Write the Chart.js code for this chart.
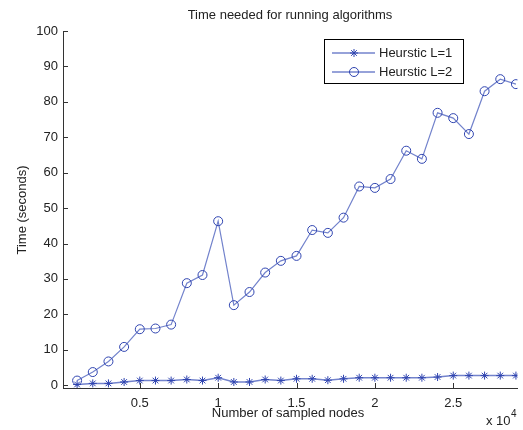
<!DOCTYPE html>
<html>
<head>
<meta charset="utf-8">
<script src="https://cdn.jsdelivr.net/npm/chart.js@4"></script>
<style>
  html, body { margin: 0; padding: 0; background: #fff; }
  #wrap { width: 523px; height: 430px; }
</style>
</head>
<body>
<div id="wrap"><canvas id="timeChart" width="523" height="430"></canvas></div>
<script>
// sampled node counts
const nodes = [1000, 2000, 3000, 4000, 5000, 6000, 7000, 8000, 9000, 10000,
  11000, 12000, 13000, 14000, 15000, 16000, 17000, 18000, 19000, 20000,
  21000, 22000, 23000, 24000, 25000, 26000, 27000, 28000, 29000];

const timeL1 = [0.2, 0.5, 0.5, 0.9, 1.3, 1.3, 1.3, 1.6, 1.3, 2.1,
  0.9, 0.9, 1.6, 1.3, 1.8, 1.8, 1.4, 1.8, 2.1, 2.1,
  2.1, 2.1, 2.1, 2.3, 2.7, 2.7, 2.7, 2.7, 2.7];

const timeL2 = [1.3, 3.7, 6.7, 10.8, 15.8, 16.0, 17.1, 28.8, 31.1, 46.3,
  22.6, 26.3, 31.8, 35.1, 36.5, 43.8, 43.0, 47.3, 56.1, 55.7,
  58.2, 66.2, 63.9, 76.9, 75.4, 70.9, 83.0, 86.4, 85.0];

const xTicks = [5000, 10000, 15000, 20000, 25000];
const yTicks = [0, 10, 20, 30, 40, 50, 60, 70, 80, 90, 100];

const lineColor = '#7383cc';
const markColor = '#2f44b0';
const font = '"Liberation Sans", Arial, sans-serif';

function pts(ys) {
    return nodes.map((n, i) => ({ x: n, y: ys[i] }));
}

// ticks pointing into the plot, titles, legend box, exponent label
const matlabLook = {
    id: 'matlabLook',
    afterDraw(chart) {
        const c = chart.ctx;
        const a = chart.chartArea;
        const xs = chart.scales.x;
        const ys = chart.scales.y;
        c.save();
        c.strokeStyle = '#333';
        c.lineWidth = 1;
        c.beginPath();
        xTicks.forEach(v => {
            const px = Math.round(xs.getPixelForValue(v)) + 0.5;
            c.moveTo(px, a.bottom);
            c.lineTo(px, a.bottom - 5);
        });
        yTicks.forEach(v => {
            const py = Math.round(ys.getPixelForValue(v)) + 0.5;
            c.moveTo(a.left, py);
            c.lineTo(a.left + 5, py);
        });
        c.stroke();

        c.fillStyle = '#222';
        c.font = '13px ' + font;
        c.textAlign = 'center';
        c.textBaseline = 'middle';
        c.fillText('Time needed for running algorithms', 290, 15);
        c.fillText('Number of sampled nodes', 288, 413);

        c.save();
        c.translate(22, 210);
        c.rotate(-Math.PI / 2);
        c.fillText('Time (seconds)', 0, 0);
        c.restore();

        c.textAlign = 'left';
        c.fillText('x 10', 486, 421);
        c.font = '10px ' + font;
        c.fillText('4', 511, 414);

        // legend
        c.fillStyle = '#fff';
        c.fillRect(324, 39, 139, 44);
        c.strokeStyle = '#000';
        c.strokeRect(324.5, 39.5, 139, 44);
        const rows = [
            { label: 'Heurstic L=1', y: 53, style: 'star' },
            { label: 'Heurstic L=2', y: 72, style: 'circle' }
        ];
        rows.forEach(r => {
            c.strokeStyle = lineColor;
            c.lineWidth = 1.5;
            c.beginPath();
            c.moveTo(332, r.y);
            c.lineTo(375, r.y);
            c.stroke();
            c.strokeStyle = markColor;
            c.fillStyle = 'rgba(0,0,0,0)';
            c.lineWidth = 1;
            Chart.helpers.drawPoint(c, { pointStyle: r.style, radius: r.style === 'star' ? 4 : 4.5, borderWidth: 1 }, 354, r.y);
            c.fillStyle = '#222';
            c.font = '13px ' + font;
            c.textAlign = 'left';
            c.textBaseline = 'middle';
            c.fillText(r.label, 379, r.y);
        });
        c.restore();
    }
};

new Chart(document.getElementById('timeChart'), {
    type: 'line',
    data: {
        datasets: [
            {
                label: 'Heurstic L=1',
                data: pts(timeL1),
                borderColor: lineColor,
                borderWidth: 1.5,
                pointStyle: 'star',
                pointRadius: 4,
                pointBorderColor: markColor,
                pointBorderWidth: 1,
                pointBackgroundColor: 'transparent',
                fill: false,
                tension: 0
            },
            {
                label: 'Heurstic L=2',
                data: pts(timeL2),
                borderColor: lineColor,
                borderWidth: 1.2,
                pointStyle: 'circle',
                pointRadius: 4.5,
                pointBorderColor: markColor,
                pointBorderWidth: 1,
                pointBackgroundColor: 'transparent',
                fill: false,
                tension: 0
            }
        ]
    },
    options: {
        responsive: false,
        animation: false,
        events: [],
        layout: { padding: { left: 0, top: 31, right: 4, bottom: 0 } },
        scales: {
            x: {
                type: 'linear',
                min: 100,
                max: 29100,
                afterBuildTicks: s => { s.ticks = xTicks.map(v => ({ value: v })); },
                afterFit: s => { s.height = 42; },
                grid: { drawOnChartArea: false, drawTicks: false },
                border: { color: '#333', width: 1 },
                ticks: {
                    padding: 8,
                    color: '#222',
                    font: { family: font, size: 13 },
                    callback: v => String(v / 10000)
                }
            },
            y: {
                min: -0.8,
                max: 100,
                afterBuildTicks: s => { s.ticks = yTicks.map(v => ({ value: v })); },
                afterFit: s => { s.width = 63; },
                grid: { drawOnChartArea: false, drawTicks: false },
                border: { color: '#333', width: 1 },
                ticks: {
                    padding: 5,
                    color: '#222',
                    font: { family: font, size: 13 }
                }
            }
        },
        plugins: {
            legend: { display: false },
            title: { display: false },
            tooltip: { enabled: false }
        }
    },
    plugins: [matlabLook]
});
</script>
</body>
</html>
